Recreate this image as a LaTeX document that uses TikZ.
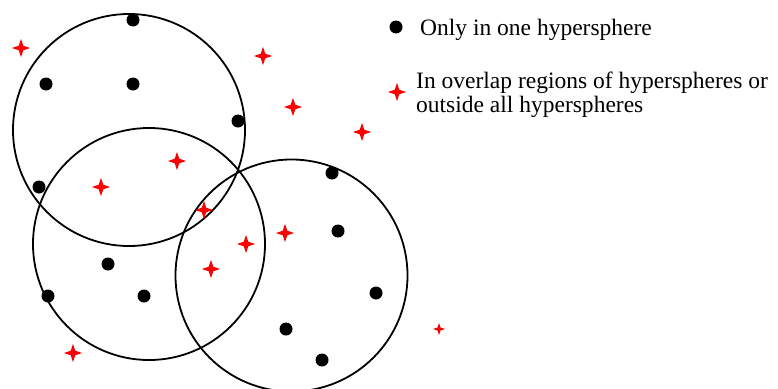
\documentclass[tikz,border=0pt]{standalone}
\usepackage{fontspec}
\setmainfont{Liberation Serif}
\usetikzlibrary{shapes.geometric}

\tikzset{
    sphere/.style={draw, circle, line width=1.8pt, minimum size=232pt, inner sep=0pt},
    pt/.style={circle, fill=black, inner sep=0pt, minimum size=13pt},
    spark/.style={star, star points=4, star point ratio=2.8, fill=red, inner sep=0pt, minimum size=18pt},
    keytext/.style={anchor=base west, inner sep=0pt, align=left, font=\fontsize{23.5}{23.5}\selectfont},
}

\begin{document}
\begin{tikzpicture}[x=1pt, y=-1pt]
    \useasboundingbox (0, 0) rectangle (778, 388);

    \node[sphere] at (129, 130) (c1) {};
    \node[sphere] at (149, 244) (c2) {};
    \node[sphere] at (291.5, 275.5) (c3) {};

    \node[pt] at (133, 20) (d1) {};
    \node[pt] at (46, 84) (d2) {};
    \node[pt] at (133, 84) (d3) {};
    \node[pt] at (238, 121) (d4) {};
    \node[pt] at (39, 187) (d5) {};
    \node[pt] at (108, 264) (d6) {};
    \node[pt] at (48, 296) (d7) {};
    \node[pt] at (144, 296) (d8) {};
    \node[pt] at (332, 173) (d9) {};
    \node[pt] at (338, 231) (d10) {};
    \node[pt] at (376, 293) (d11) {};
    \node[pt] at (286, 329) (d12) {};
    \node[pt] at (322, 360) (d13) {};

    \node[spark] at (21, 48) (s1) {};
    \node[spark] at (263, 56) (s2) {};
    \node[spark] at (293, 107) (s3) {};
    \node[spark] at (362, 132) (s4) {};
    \node[spark] at (177, 161) (s5) {};
    \node[spark] at (101, 187) (s6) {};
    \node[spark] at (204, 210) (s7) {};
    \node[spark] at (246, 244) (s8) {};
    \node[spark] at (285, 233) (s9) {};
    \node[spark] at (211, 269) (s10) {};
    \node[spark, minimum size=12pt] at (439, 329) (s11) {};
    \node[spark] at (73, 353) (s12) {};

    \node[pt] at (396, 27) (keydot) {};
    \node[keytext] at (420, 35) (keydottext) {Only in one hypersphere};
    \node[spark] at (397, 92) (keystar) {};
    \node[keytext] at (416, 112) (keystartext) {In overlap regions of hyperspheres or\\outside all hyperspheres};
\end{tikzpicture}
\end{document}
